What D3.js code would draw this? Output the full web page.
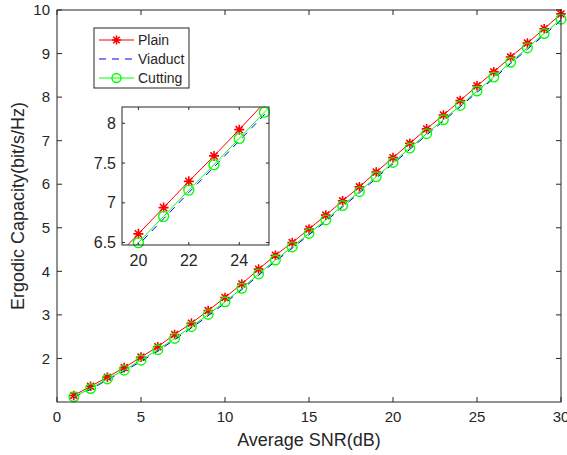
<!DOCTYPE html>
<html>
<head>
<meta charset="utf-8">
<script src="https://cdn.jsdelivr.net/npm/d3@7/dist/d3.min.js"></script>
<style>
  body { margin: 0; background: #fff; }
  svg { display: block; font-family: "Liberation Sans", Arial, sans-serif; }
  text { fill: #262626; }
</style>
</head>
<body>
<svg id="chart" width="567" height="455"></svg>
<script>
// data
const snr = d3.range(1, 31);
const plain = [1.15, 1.36, 1.57, 1.79, 2.03, 2.27, 2.55, 2.81, 3.10, 3.40,
               3.71, 4.05, 4.37, 4.66, 4.97, 5.29, 5.62, 5.94, 6.28, 6.61,
               6.94, 7.27, 7.59, 7.92, 8.26, 8.58, 8.92, 9.24, 9.57, 9.91];
const viaduct = [1.11, 1.29, 1.51, 1.71, 1.93, 2.17, 2.43, 2.70, 2.98, 3.27,
                 3.58, 3.91, 4.23, 4.53, 4.84, 5.15, 5.48, 5.80, 6.14, 6.47,
                 6.80, 7.13, 7.45, 7.78, 8.11, 8.43, 8.77, 9.10, 9.43, 9.76];
const cutting = [1.12, 1.31, 1.53, 1.73, 1.96, 2.20, 2.46, 2.73, 3.01, 3.30,
                 3.61, 3.94, 4.26, 4.56, 4.87, 5.18, 5.51, 5.83, 6.17, 6.50,
                 6.83, 7.16, 7.48, 7.81, 8.14, 8.46, 8.80, 9.13, 9.46, 9.79];
const xTicks = [0, 5, 10, 15, 20, 25, 30];
const yTicks = [2, 3, 4, 5, 6, 7, 8, 9, 10];
const insetXTicks = [20, 22, 24];
const insetYTicks = [6.5, 7, 7.5, 8];

const seriesList = [
    {name: "Plain", values: plain, color: "#ff0000", dash: null, marker: "star"},
    {name: "Viaduct", values: viaduct, color: "#0000ff", dash: "7,6", marker: null},
    {name: "Cutting", values: cutting, color: "#00ff00", dash: null, marker: "circle"}
];

const svg = d3.select("#chart");
const axisColor = "#262626";

// asterisk marker like matlab '*'
function starPath(s) {
    let d = s * 0.72;
    return "M" + (-s) + ",0L" + s + ",0M0," + (-s) + "L0," + s +
        "M" + (-d) + "," + (-d) + "L" + d + "," + d +
        "M" + (-d) + "," + d + "L" + d + "," + (-d);
}

function drawAxes(g, x, y, xt, yt, opt) {
    let [x0, x1] = x.range(), [y0, y1] = y.range();
    g.append("rect")
        .attr("x", x0).attr("y", y1)
        .attr("width", x1 - x0).attr("height", y0 - y1)
        .attr("fill", "#fff");

    // inward ticks on all four sides
    let tk = opt.tick;
    g.selectAll(".xt").data(xt).enter().append("path")
        .attr("stroke", axisColor).attr("stroke-width", 1)
        .attr("d", d => "M" + x(d) + "," + y0 + "v" + (-tk) + "M" + x(d) + "," + y1 + "v" + tk);
    g.selectAll(".yt").data(yt).enter().append("path")
        .attr("stroke", axisColor).attr("stroke-width", 1)
        .attr("d", d => "M" + x0 + "," + y(d) + "h" + tk + "M" + x1 + "," + y(d) + "h" + (-tk));

    g.selectAll(".xl").data(xt).enter().append("text")
        .attr("x", d => x(d)).attr("y", y0 + opt.xLabelGap)
        .attr("text-anchor", "middle")
        .style("font-size", opt.font + "px")
        .text(d => d);
    g.selectAll(".yl").data(yt).enter().append("text")
        .attr("x", x0 - opt.yLabelGap).attr("y", d => y(d))
        .attr("dy", "0.35em")
        .attr("text-anchor", "end")
        .style("font-size", opt.font + "px")
        .text(d => d);
}

function drawBox(g, x, y) {
    let [x0, x1] = x.range(), [y0, y1] = y.range();
    g.append("rect")
        .attr("x", x0).attr("y", y1)
        .attr("width", x1 - x0).attr("height", y0 - y1)
        .attr("fill", "none").attr("stroke", axisColor).attr("stroke-width", 1);
}

function drawSeries(g, x, y, clipId, r) {
    let [xd0, xd1] = x.domain(), [yd0, yd1] = y.domain();
    let line = d3.line().x((d, i) => x(snr[i])).y(d => y(d));
    let inside = (v, i) => snr[i] >= xd0 && snr[i] <= xd1 && v >= yd0 && v <= yd1;

    for (let s of seriesList) {
        let sg = g.append("g");
        if (clipId) sg.attr("clip-path", "url(#" + clipId + ")");
        sg.append("path")
            .datum(s.values)
            .attr("fill", "none")
            .attr("stroke", s.color)
            .attr("stroke-width", 1)
            .attr("stroke-dasharray", s.dash)
            .attr("d", line);

        let pts = s.values.map((v, i) => ({v: v, i: i})).filter(p => inside(p.v, p.i));
        if (s.marker === "star") {
            g.selectAll(null).data(pts).enter().append("path")
                .attr("transform", p => "translate(" + x(snr[p.i]) + "," + y(p.v) + ")")
                .attr("d", starPath(r))
                .attr("stroke", s.color).attr("stroke-width", 1.6).attr("fill", "none");
        } else if (s.marker === "circle") {
            g.selectAll(null).data(pts).enter().append("circle")
                .attr("cx", p => x(snr[p.i])).attr("cy", p => y(p.v))
                .attr("r", r)
                .attr("stroke", s.color).attr("stroke-width", 1.4).attr("fill", "none");
        }
    }
}

// main axes
const x = d3.scaleLinear().domain([0, 30]).range([57, 561]);
const y = d3.scaleLinear().domain([1, 10]).range([402, 10]);
const mainG = svg.append("g");
drawAxes(mainG, x, y, xTicks, yTicks, {tick: 5, font: 15, xLabelGap: 20, yLabelGap: 7});
drawSeries(mainG, x, y, null, 4.8);
drawBox(mainG, x, y);

mainG.append("text")
    .attr("x", (57 + 561) / 2).attr("y", 446)
    .attr("text-anchor", "middle")
    .style("font-size", "18px")
    .text("Average SNR(dB)");
mainG.append("text")
    .attr("transform", "translate(24," + ((10 + 402) / 2) + ") rotate(-90)")
    .attr("text-anchor", "middle")
    .style("font-size", "18px")
    .text("Ergodic Capacity(bit/s/Hz)");

// legend
const legend = svg.append("g");
legend.append("rect")
    .attr("x", 94).attr("y", 28).attr("width", 95).attr("height", 60)
    .attr("fill", "#fff").attr("stroke", axisColor).attr("stroke-width", 1);
seriesList.forEach((s, i) => {
    let ly = 40 + i * 19;
    legend.append("line")
        .attr("x1", 99).attr("x2", 134).attr("y1", ly).attr("y2", ly)
        .attr("stroke", s.color).attr("stroke-width", 1)
        .attr("stroke-dasharray", s.dash);
    if (s.marker === "star") {
        legend.append("path").attr("transform", "translate(116.5," + ly + ")")
            .attr("d", starPath(4.5)).attr("stroke", s.color).attr("stroke-width", 1.6);
    } else if (s.marker === "circle") {
        legend.append("circle").attr("cx", 116.5).attr("cy", ly).attr("r", 4.5)
            .attr("fill", "none").attr("stroke", s.color).attr("stroke-width", 1.4);
    }
    legend.append("text")
        .attr("x", 138).attr("y", ly).attr("dy", "0.35em")
        .style("font-size", "14px")
        .text(s.name);
});

// inset zoom
const ix = d3.scaleLinear().domain([19.35, 25.18]).range([122, 269]);
const iy = d3.scaleLinear().domain([6.47, 8.205]).range([245, 107]);
const insetG = svg.append("g");
svg.append("defs").append("clipPath").attr("id", "insetClip")
    .append("rect").attr("x", 122).attr("y", 107).attr("width", 147).attr("height", 138);
drawAxes(insetG, ix, iy, insetXTicks, insetYTicks, {tick: 3, font: 16, xLabelGap: 21, yLabelGap: 6});
drawSeries(insetG, ix, iy, "insetClip", 5);
drawBox(insetG, ix, iy);
</script>
</body>
</html>
